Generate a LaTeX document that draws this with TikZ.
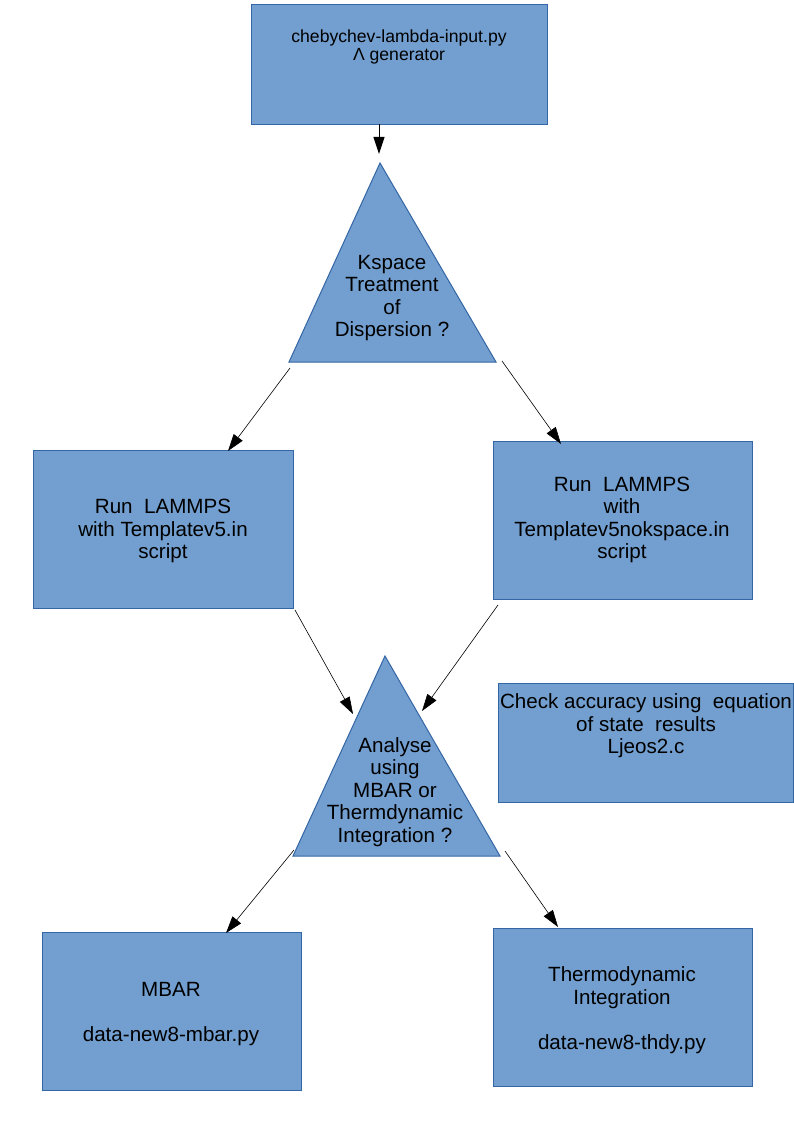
\documentclass[tikz,border=0pt]{standalone}
\usepackage{fontspec}
\setmainfont{Liberation Sans}
\usetikzlibrary{arrows.meta}
\definecolor{boxfill}{HTML}{729FCF}
\definecolor{boxline}{HTML}{3465A4}
\begin{document}
\begin{tikzpicture}[x=1pt,y=-1pt,
  box/.style={draw=boxline, fill=boxfill, line width=1pt, inner sep=0pt, anchor=north west},
  tri/.style={draw=boxline, fill=boxfill, line width=1pt, line join=miter},
  txt/.style={align=center, font=\fontsize{20.6}{22.5}\selectfont, inner sep=0pt, text=black},
  smalltxt/.style={align=center, font=\fontsize{17.6}{18.6}\selectfont, inner sep=0pt, text=black},
  arr/.style={draw=black, line width=0.6pt, -{Triangle[length=17pt,width=11pt]}}]
\useasboundingbox (0,0) rectangle (794,1123);

% boxes
\node[box, minimum width=296pt, minimum height=120pt] (gen) at (251,4) {};
\node[box, minimum width=260pt, minimum height=158pt] (runA) at (33,450) {};
\node[box, minimum width=259pt, minimum height=158pt] (runB) at (493,441) {};
\node[box, minimum width=295pt, minimum height=119pt] (check) at (498,683) {};
\node[box, minimum width=259pt, minimum height=158pt] (mbar) at (42,932) {};
\node[box, minimum width=259pt, minimum height=158pt] (thdy) at (493,928) {};

% triangles
\draw[tri] (380,163) -- (496,362) -- (289,362) -- cycle;
\draw[tri] (385,656) -- (500,856) -- (293,856) -- cycle;

% texts
\node[smalltxt] (genT) at (399,47) {chebychev-lambda-input.py\\Λ generator};
\node[txt] (kspace) at (392,298) {Kspace\\Treatment\\of\\Dispersion ?};
\node[txt] (runAT) at (163,531) {Run~~LAMMPS\\with Templatev5.in\\script};
\node[txt] (runBT) at (622,520) {Run~~LAMMPS\\with\\Templatev5nokspace.in\\script};
\node[txt] (analyse) at (395,792) {Analyse\\using\\MBAR or\\Thermdynamic\\Integration ?};
\node[txt] (checkT) at (646,726) {Check accuracy using~~equation\\of state~~results\\Ljeos2.c};
\node[txt] (mbarT) at (171,1014) {MBAR\\[22.5pt]data-new8-mbar.py};
\node[txt] (thdyT) at (622,1010) {Thermodynamic\\Integration\\[22.5pt]data-new8-thdy.py};

% connector end points
\coordinate (c1s) at (379,124);
\coordinate (c1e) at (379,154);
\coordinate (c2s) at (290,368);
\coordinate (c2e) at (228,451);
\coordinate (c3s) at (502,361);
\coordinate (c3e) at (561,444);
\coordinate (c4s) at (295,610);
\coordinate (c4e) at (353,714);
\coordinate (c5s) at (498,605);
\coordinate (c5e) at (422,711);
\coordinate (c6s) at (294,850);
\coordinate (c6e) at (226,933);
\coordinate (c7s) at (505,851);
\coordinate (c7e) at (558,927);

\draw[arr, line width=1pt] (c1s) -- (c1e);
\draw[arr] (c2s) -- (c2e);
\draw[arr] (c3s) -- (c3e);
\draw[arr] (c4s) -- (c4e);
\draw[arr] (c5s) -- (c5e);
\draw[arr] (c6s) -- (c6e);
\draw[arr] (c7s) -- (c7e);
\end{tikzpicture}
\end{document}
